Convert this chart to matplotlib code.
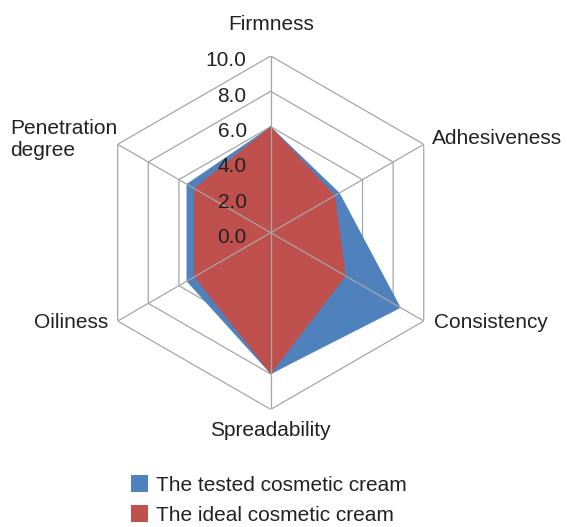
import numpy as np
import matplotlib
matplotlib.use('Agg')
import matplotlib.pyplot as plt
from matplotlib.patches import Patch

plt.rcParams['font.family'] = ['Liberation Sans', 'DejaVu Sans']

categories = ['Firmness', 'Adhesiveness', 'Consistency', 'Spreadability',
              'Oiliness', 'Penetration\ndegree']
tested = [6.0, 4.5, 8.5, 8.0, 5.5, 5.5]
ideal = [6.0, 4.2, 4.9, 8.0, 5.0, 5.0]
ticks = [0, 2, 4, 6, 8, 10]
tick_labels = ['0.0', '2.0', '4.0', '6.0', '8.0', '10.0']

blue = '#4F81BD'
red = '#C0504D'
grid = '#A6A6A6'

angles = np.linspace(0, 2 * np.pi, len(categories), endpoint=False)
ang_closed = np.append(angles, angles[0])

fig = plt.figure(figsize=(5.67, 5.27), dpi=100)
ax = fig.add_axes([0.1658, 0.2232, 0.6233, 0.6706], projection='polar')
ax.set_theta_offset(np.pi / 2)
ax.set_theta_direction(-1)
ax.set_ylim(0, 10)
ax.grid(False)
ax.spines['polar'].set_visible(False)
ax.set_xticks([])
ax.set_yticks([])
ax.patch.set_visible(False)

# hexagon grid behind the series
for t in ticks[1:]:
    ax.plot(ang_closed, [t] * len(ang_closed), color=grid, lw=0.9, zorder=0)

ax.fill(ang_closed, tested + tested[:1], color=blue, lw=0, zorder=1)
ax.fill(ang_closed, ideal + ideal[:1], color=red, lw=0, zorder=2)

# spokes on top
for a in angles:
    ax.plot([a, a], [0, 10], color=grid, lw=0.9, zorder=3)

for t, lab in zip(ticks, tick_labels):
    ax.annotate(lab, xy=(0, t), xytext=(-24, -3), textcoords='offset pixels',
                ha='right', va='center_baseline', fontsize=15, color='#222222',
                zorder=4)

label_pos = [
    (0, 26, 'center', 'baseline'),
    (8, 0, 'left', 'baseline'),
    (10, -7, 'left', 'baseline'),
    (0, -27, 'center', 'baseline'),
    (-9, -7, 'right', 'baseline'),
    (0, 5, 'right', 'center'),
]
for a, cat, (dx, dy, ha, va) in zip(angles, categories, label_pos):
    ax.annotate(cat, xy=(a, 10), xytext=(dx, dy), textcoords='offset pixels',
                ha=ha, va=va, fontsize=15, color='#222222',
                multialignment='left', linespacing=1.2)

handles = [Patch(facecolor=blue, edgecolor='none', label='The tested cosmetic cream'),
           Patch(facecolor=red, edgecolor='none', label='The ideal cosmetic cream')]
fig.legend(handles=handles, loc='upper left', bbox_to_anchor=(131 / 567, 0.098),
           frameon=False, fontsize=15, handlelength=0.83, handleheight=0.83,
           handletextpad=0.37, labelspacing=0.5, borderpad=0, borderaxespad=0,
           labelcolor='#222222')

fig.savefig('out.png', dpi=100)
